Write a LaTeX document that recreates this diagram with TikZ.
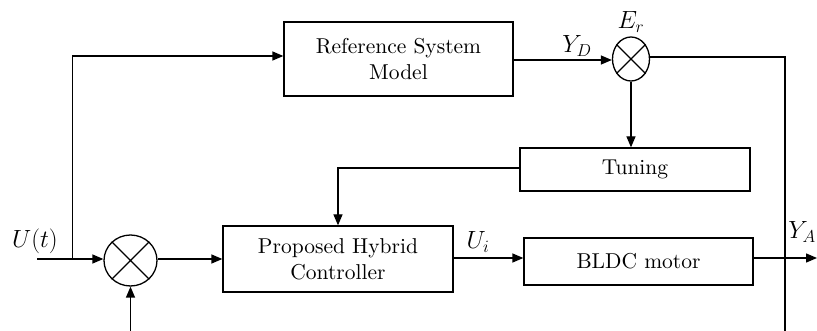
\documentclass[tikz,border=0pt]{standalone}
\usepackage{fontspec}
\setmainfont{lmroman10-regular.otf}
\usetikzlibrary{arrows.meta,shapes.geometric}
\tikzset{
  blk/.style={draw, line width=1.3pt, rectangle, inner sep=0pt, align=center,
    font=\fontsize{21.5}{26}\selectfont},
  summer/.style={draw, line width=1.3pt, ellipse, inner sep=0pt},
  wire/.style={line width=1.3pt},
  flow/.style={wire, -{Triangle[length=11pt,width=9pt]}},
  lbl/.style={font=\fontsize{23}{26}\selectfont, inner sep=0pt}
}
% draws the cross inside a summing junction
\newcommand{\xcross}[1]{%
  \draw[wire] (#1.45) -- (#1.225) (#1.135) -- (#1.315);}
\begin{document}
\begin{tikzpicture}[x=1pt,y=-1pt]
\useasboundingbox (0,0) rectangle (817,331);

% blocks
\node[blk, minimum width=229pt, minimum height=74pt] (rsm) at (398.5,59) {Reference System\\Model};
\node[blk, minimum width=230pt, minimum height=43pt] (tune) at (635,169.5) {Tuning};
\node[blk, minimum width=230pt, minimum height=66pt] (phc) at (338,259) {Proposed Hybrid\\Controller};
\node[blk, minimum width=229pt, minimum height=47pt] (bldc) at (638.5,261.5) {BLDC motor};

% summing junctions
\node[summer, minimum width=37pt, minimum height=44pt] (er) at (631,59) {};
\xcross{er}
\node[summer, minimum width=53pt, minimum height=51pt] (sum) at (130.5,260.5) {};
\xcross{sum}

% free ends and bends
\coordinate (uin) at (37,259);
\coordinate (br) at (72.7,259);
\coordinate (fb) at (130.5,331);
\coordinate (ercorner) at (785,57);
\coordinate (erend) at (785,331);
\coordinate (out) at (817,258);

% connectors
\draw[flow] (uin) -- (sum.west |- uin);
\draw[flow] (br) |- (rsm.west |- 0,56);
\draw[flow] (fb) -- (sum.south);
\draw[flow] (sum.east |- 0,259) -- (phc.west |- 0,259);
\draw[flow] (rsm.east |- 0,60) -- (er.west |- 0,60);
\draw[flow] (er.south) -- (tune.north -| er.south);
\draw[wire] (er.east |- ercorner) -- (ercorner) -- (erend);
\draw[flow] (tune.west |- 0,168) -| (phc.north -| 338,0);
\draw[flow] (phc.east |- 0,258) -- (bldc.west |- 0,258);
\draw[flow] (bldc.east |- out) -- (out);

% labels
\node[lbl] (lyd) at (577,46) {$Y_D$};
\node[lbl] (ler) at (631,22) {$E_r$};
\node[lbl] (lu) at (35,241) {$U(t)$};
\node[lbl] (lui) at (478,242) {$U_i$};
\node[lbl, anchor=east] (lya) at (816,232) {$Y_A$};
\end{tikzpicture}
\end{document}
